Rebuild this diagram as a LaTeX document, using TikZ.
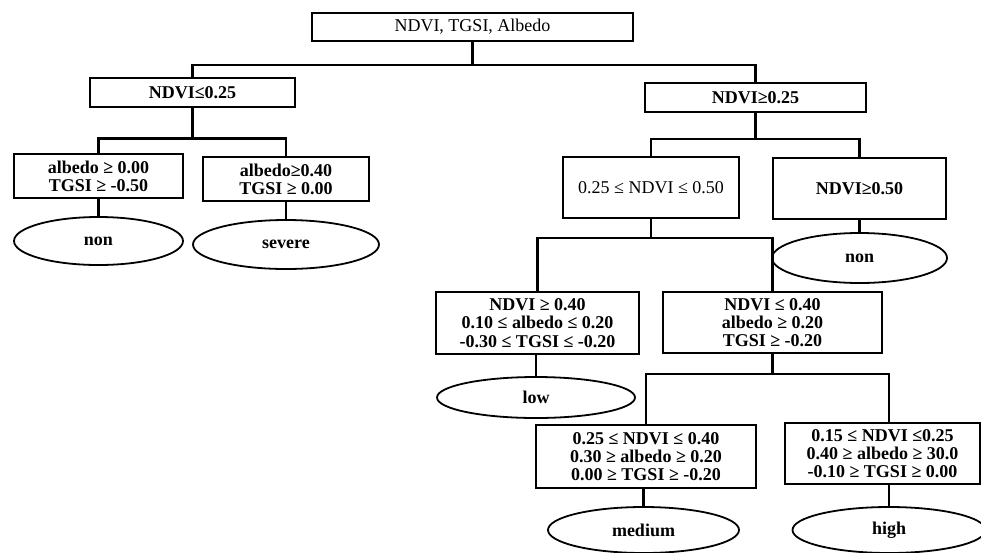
\documentclass[tikz,border=0pt]{standalone}
\usepackage{fontspec}
\setmainfont{Liberation Serif}
\usetikzlibrary{shapes.geometric}

\newcommand\treefont{\fontsize{18}{18.2}\selectfont}

\begin{document}
\begin{tikzpicture}[x=1pt,y=-1pt,
		cond/.style={draw, line width=2.4pt, inner sep=0pt, align=center, font=\treefont\bfseries},
		leaf/.style={draw, ellipse, line width=1.8pt, inner sep=0pt, font=\treefont\bfseries},
		link/.style={line width=2.4pt}]

	\useasboundingbox (0,0) rectangle (981,552);

	% conditions
	\node[cond, line width=1.8pt, font=\treefont, minimum width=321pt, minimum height=28pt] (root) at (472.5,27) {NDVI, TGSI, Albedo};

	\node[cond, line width=2.8pt, minimum width=205pt, minimum height=29pt] (lo) at (192.5,92.5) {NDVI≤0.25};
	\node[cond, minimum width=221pt, minimum height=29pt] (hi) at (755.5,97.5) {NDVI≥0.25};

	\node[cond, minimum width=169pt, minimum height=44pt] (lo1) at (98.5,176) {albedo ≥ 0.00\\TGSI ≥ -0.50};
	\node[cond, minimum width=166pt, minimum height=44pt] (lo2) at (286,179) {albedo≥0.40\\TGSI ≥ 0.00};

	\node[cond, font=\treefont, minimum width=176pt, minimum height=61pt] (mid) at (651,187.5) {0.25 ≤ NDVI ≤ 0.50};
	\node[cond, minimum width=173pt, minimum height=61pt] (top) at (859.5,188.5) {NDVI≥0.50};

	\node[cond, minimum width=203pt, minimum height=62pt] (mid1) at (537.5,323) {NDVI ≥ 0.40\\0.10 ≤ albedo ≤ 0.20\\-0.30 ≤ TGSI ≤ -0.20};
	\node[cond, minimum width=219pt, minimum height=61pt] (mid2) at (772.5,322.5) {NDVI ≤ 0.40\\albedo ≥ 0.20\\TGSI ≥ -0.20};

	\node[cond, minimum width=220pt, minimum height=63pt] (mid21) at (646,456.5) {0.25 ≤ NDVI ≤ 0.40\\0.30 ≥ albedo ≥ 0.20\\0.00 ≥ TGSI ≥ -0.20};
	\node[cond, minimum width=195pt, minimum height=61pt] (mid22) at (882.5,453.5) {0.15 ≤ NDVI ≤0.25\\0.40 ≥ albedo ≥ 30.0\\-0.10 ≥ TGSI ≥ 0.00};

	% classes
	\node[leaf, minimum width=169pt, minimum height=48pt] (non1) at (98.5,241) {non};
	\node[leaf, minimum width=186pt, minimum height=49pt] (severe) at (286,244.5) {severe};
	\node[leaf, minimum width=175pt, minimum height=50pt] (non2) at (859.5,258) {non};
	\node[leaf, minimum width=198pt, minimum height=41pt] (low) at (536,397.5) {low};
	\node[leaf, minimum width=191pt, minimum height=46pt] (medium) at (643.5,530) {medium};
	\node[leaf, minimum width=193pt, minimum height=46pt] (high) at (889,530) {high};

	% branches
	\draw[link] (root.south) -- ++(0,23) coordinate (r0) -| (lo.north);
	\draw[link] (r0) -| (hi.north);

	\draw[link] (lo.south) -- ++(0,30) coordinate (l0) -| (lo1.north);
	\draw[link] (l0) -| (lo2.north);
	\draw[link] (lo1.south) -- (non1.north);
	\draw[link] (lo2.south) -- (severe.north);

	\draw[link] (hi.south) -- ++(0,26) coordinate (h0) -| (mid.north);
	\draw[link] (h0) -| (top.north);
	\draw[link] (top.south) -- (non2.north);

	\draw[link] (mid.south) -- ++(0,19) coordinate (m0) -| (mid1.north);
	\draw[link] (m0) -| (mid2.north);
	\draw[link] (low.north |- mid1.south) -- (low.north);

	\draw[link] (mid2.south) -- ++(0,20) coordinate (n0) -| (mid21.north);
	\draw[link] (n0) -| (high.north |- mid22.north);
	\draw[link] (medium.north |- mid21.south) -- (medium.north);
	\draw[link] (high.north |- mid22.south) -- (high.north);

\end{tikzpicture}
\end{document}
